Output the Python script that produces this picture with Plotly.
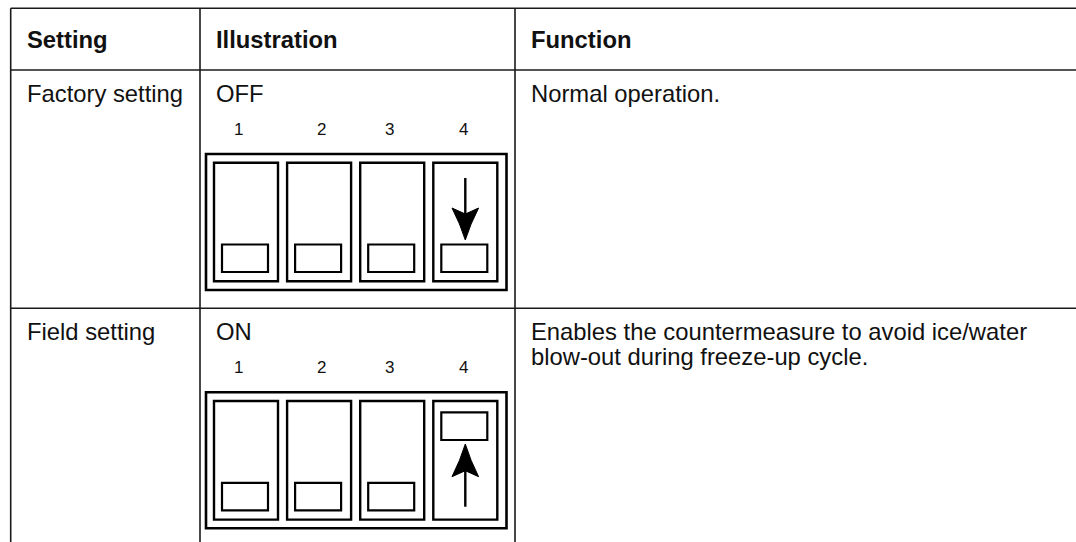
import plotly.graph_objects as go

# ---------------- data ----------------
headers = ["Setting", "Illustration", "Function"]
settings = ["Factory setting", "Field setting"]
states = ["OFF", "ON"]
functions = [
    ["Normal operation."],
    ["Enables the countermeasure to avoid ice/water", "blow-out during freeze-up cycle."],
]
switch_labels = ["1", "2", "3", "4"]
switch_positions = [["down", "down", "down", "down"], ["down", "down", "down", "up"]]
arrow_dirs = [[None, None, None, "down"], [None, None, None, "up"]]

# ---------------- layout constants ----------------
W, H = 1076, 542
col_x = [10.7, 200, 515]
row_y = [8.3, 70, 308.3]
PAD = 14
FONT = "Liberation Sans, Arial, Helvetica, sans-serif"
FS = 23.8
LINE_C = "#1a1a1a"
digit_x = [238.3, 321.7, 389.3, 463.3]

shapes = []
ann = []

def text(x, y, s, size=FS, bold=False):
    ann.append(dict(x=x, y=y, xref="x", yref="y", text=f"<b>{s}</b>" if bold else s,
                    showarrow=False, xanchor="left", yanchor="middle",
                    font=dict(family=FONT, size=size, color="#111")))

# table grid
for y in row_y:
    shapes.append(dict(type="line", x0=col_x[0], x1=W + 2, y0=y, y1=y,
                       line=dict(color=LINE_C, width=1.6)))
for x in col_x:
    shapes.append(dict(type="line", x0=x, x1=x, y0=row_y[0], y1=H + 2,
                       line=dict(color=LINE_C, width=1.6)))

# header
hy = (row_y[0] + row_y[1]) / 2
for c, h in enumerate(headers):
    text(col_x[c] + PAD, hy, h, bold=True)

def rect(x0, y0, x1, y1, w):
    shapes.append(dict(type="rect", x0=x0, x1=x1, y0=y0, y1=y1,
                       line=dict(color="black", width=w), fillcolor="rgba(0,0,0,0)"))

for r in range(len(settings)):
    t = row_y[r + 1]
    ty = t + 23.5
    text(col_x[0] + PAD, ty, settings[r])
    text(col_x[1] + PAD, ty, states[r])
    for k, line in enumerate(functions[r]):
        text(col_x[2] + PAD, ty + 25 * k, line)
    # digits
    for i, lab in enumerate(switch_labels):
        ann.append(dict(x=digit_x[i], y=t + 59.5, xref="x", yref="y", text=lab,
                        showarrow=False, xanchor="center", yanchor="middle",
                        font=dict(family=FONT, size=17, color="#111")))
    # outer body
    rect(206, t + 84, 506.5, t + 220, 2.6)
    for i in range(4):
        x0 = 214 + i * 73.1
        rect(x0, t + 92.7, x0 + 64, t + 211.3, 2.4)
        if switch_positions[r][i] == "down":
            rect(x0 + 8, t + 174.5, x0 + 54, t + 202, 2.2)
        else:
            rect(x0 + 8, t + 104, x0 + 54, t + 131.7, 2.2)
        cx = x0 + 32
        d = arrow_dirs[r][i]
        if d == "down":
            y_tail, y_base, y_tip = t + 108, t + 138, t + 170
        elif d == "up":
            y_tail, y_base, y_tip = t + 198.4, t + 168.4, t + 135.7
        else:
            continue
        sgn = 1 if y_tip > y_base else -1
        shapes.append(dict(type="line", x0=cx, x1=cx, y0=y_tail, y1=y_base + sgn * 8,
                           line=dict(color="black", width=2.4)))
        hw = 13.3
        notch = y_base + sgn * 6
        mid_l = (y_base + y_tip) / 2
        path = (f"M {cx},{y_tip} Q {cx - 5},{mid_l} {cx - hw},{y_base} "
                f"L {cx},{notch} L {cx + hw},{y_base} Q {cx + 5},{mid_l} {cx},{y_tip} Z")
        shapes.append(dict(type="path", path=path, fillcolor="black",
                           line=dict(color="black", width=1)))

fig = go.Figure()
fig.add_trace(go.Scatter(x=[0, W], y=[0, H], mode="markers", marker=dict(opacity=0),
                         hoverinfo="skip", showlegend=False))
fig.update_layout(
    width=W, height=H, margin=dict(l=0, r=0, t=0, b=0),
    paper_bgcolor="white", plot_bgcolor="white",
    xaxis=dict(range=[0, W], visible=False, fixedrange=True),
    yaxis=dict(range=[H, 0], visible=False, fixedrange=True),
    shapes=shapes, annotations=ann, showlegend=False,
)
fig.write_html("out.html", config={"displayModeBar": False},
               post_script="document.body.style.margin='0';"
                           "document.body.style.overflow='hidden';"
                           "document.documentElement.style.overflow='hidden';")
